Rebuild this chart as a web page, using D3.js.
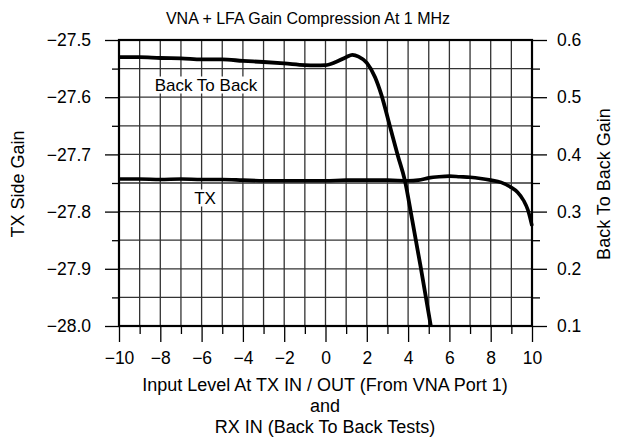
<!DOCTYPE html>
<html><head><meta charset="utf-8">
<script src="https://cdn.jsdelivr.net/npm/d3@7"></script>
<style>
body{margin:0;background:#fff;}
text{font-family:"Liberation Sans",Arial,Helvetica,sans-serif;fill:#000;}
</style></head>
<body><svg id="c" width="622" height="448"></svg>
<script>
// Data
const xTicks = [-10,-8,-6,-4,-2,0,2,4,6,8,10];
const leftTicks = [-27.5,-27.6,-27.7,-27.8,-27.9,-28.0];
const rightTicks = [0.6,0.5,0.4,0.3,0.2,0.1];
// TX side gain (left axis)
const txX = [-10,-9,-8,-7,-6,-5,-4,-3,-2,-1,0,1,2,3,4,4.5,5,5.5,6,6.5,7,7.5,8,8.5,9,9.3,9.6,9.8,10];
const txY = [-27.743,-27.743,-27.744,-27.743,-27.744,-27.744,-27.745,-27.746,-27.746,-27.746,-27.746,-27.745,-27.745,-27.745,-27.746,-27.745,-27.741,-27.739,-27.738,-27.739,-27.740,-27.742,-27.745,-27.749,-27.758,-27.766,-27.781,-27.797,-27.825];
// Back to back gain (right axis)
const bbX = [-10,-9,-8,-7,-6,-5,-4,-3,-2,-1,-0.5,0,0.5,1,1.3,1.6,2,2.4,2.7,3.1,3.5,3.84,4.2,4.6,5.1];
const bbY = [0.570,0.570,0.5685,0.568,0.566,0.566,0.5635,0.5615,0.559,0.556,0.5555,0.556,0.5615,0.570,0.574,0.571,0.560,0.535,0.505,0.452,0.398,0.355,0.285,0.205,0.100];

const svg = d3.select("#c");
const L=119, R=532, T=40, B=326;
const x = d3.scaleLinear().domain([-10,10]).range([L,R]);
const yL = d3.scaleLinear().domain([-28.0,-27.5]).range([B,T]);
const yR = d3.scaleLinear().domain([0.1,0.6]).range([B,T]);
const FS = 17.5;

// grid
const g = svg.append("g");
g.selectAll("line.v").data(d3.range(-9,10)).enter().append("line")
 .attr("x1",d=>x(d)).attr("x2",d=>x(d)).attr("y1",T).attr("y2",B)
 .attr("stroke","#333").attr("stroke-width",1.3);
g.selectAll("line.h").data(d3.range(1,10).map(i=>-28+i*0.05)).enter().append("line")
 .attr("x1",L).attr("x2",R).attr("y1",d=>yL(d)).attr("y2",d=>yL(d))
 .attr("stroke","#333").attr("stroke-width",1.3);

// axes
function clean(sel){sel.select(".domain").remove();sel.selectAll(".tick line").attr("stroke","#000").attr("stroke-width",1.3);}
const fmt1 = d3.format(".1f");
svg.append("g").attr("transform",`translate(${L},0)`)
 .call(d3.axisLeft(yL).tickValues(leftTicks).tickSize(14).tickPadding(14).tickFormat(fmt1))
 .call(clean).selectAll("text").attr("font-size",FS).attr("font-family","Liberation Sans, Arial, sans-serif");
svg.append("g").attr("transform",`translate(${L},0)`)
 .call(d3.axisLeft(yL).tickValues(d3.range(0,5).map(i=>-27.95+i*0.1)).tickSize(7).tickFormat(""))
 .call(clean);
svg.append("g").attr("transform",`translate(${R},0)`)
 .call(d3.axisRight(yR).tickValues(rightTicks).tickSize(15).tickPadding(10).tickFormat(fmt1))
 .call(clean).selectAll("text").attr("font-size",FS).attr("font-family","Liberation Sans, Arial, sans-serif");
svg.append("g").attr("transform",`translate(${R},0)`)
 .call(d3.axisRight(yR).tickValues(d3.range(0,5).map(i=>0.15+i*0.1)).tickSize(8).tickFormat(""))
 .call(clean);
svg.append("g").attr("transform",`translate(0,${B})`)
 .call(d3.axisBottom(x).tickValues(xTicks).tickSize(16).tickPadding(10).tickFormat(d3.format("d")))
 .call(clean).selectAll("text").attr("font-size",FS).attr("font-family","Liberation Sans, Arial, sans-serif");
svg.append("g").attr("transform",`translate(0,${B})`)
 .call(d3.axisBottom(x).tickValues(d3.range(-9,10,2)).tickSize(8).tickFormat(""))
 .call(clean);

// frame
svg.append("rect").attr("x",L).attr("y",T).attr("width",R-L).attr("height",B-T)
 .attr("fill","none").attr("stroke","#000").attr("stroke-width",2.2);

// lines
const lineTX = d3.line().x((d,i)=>x(txX[i])).y((d,i)=>yL(txY[i])).curve(d3.curveMonotoneX);
const lineBB = d3.line().x((d,i)=>x(bbX[i])).y((d,i)=>yR(bbY[i])).curve(d3.curveMonotoneX);
svg.append("path").attr("d",lineTX(txX)).attr("fill","none").attr("stroke","#000").attr("stroke-width",3.6);
svg.append("path").attr("d",lineBB(bbX)).attr("fill","none").attr("stroke","#000").attr("stroke-width",3.8);

// in-plot labels with white background
function label(txt,cx,cy){
  const bgr = svg.append("rect").attr("fill","#fff");
  const t = svg.append("text").attr("x",cx).attr("y",cy).attr("text-anchor","middle")
   .attr("dominant-baseline","central").attr("font-size",17).text(txt);
  const bb = t.node().getBBox();
  bgr.attr("x",bb.x-2).attr("y",bb.y+1).attr("width",bb.width+4).attr("height",bb.height-2);
}
label("Back To Back",206,85);
label("TX",205,198);

// titles
svg.append("text").attr("x",308).attr("y",18).attr("text-anchor","middle").attr("dominant-baseline","central").attr("font-size",16).text("VNA + LFA Gain Compression At 1 MHz");
svg.append("text").attr("transform","translate(18,184) rotate(-90)").attr("text-anchor","middle").attr("dominant-baseline","central").attr("font-size",18).text("TX Side Gain");
svg.append("text").attr("transform","translate(604,184) rotate(-90)").attr("text-anchor","middle").attr("dominant-baseline","central").attr("font-size",18).text("Back To Back Gain");
const xt = ["Input Level At TX IN / OUT (From VNA Port 1)","and","RX IN (Back To Back Tests)"];
svg.selectAll("text.xt").data(xt).enter().append("text").attr("class","xt")
 .attr("x",325).attr("y",(d,i)=>385+i*21).attr("text-anchor","middle").attr("dominant-baseline","central").attr("font-size",18).text(d=>d);
</script></body></html>
